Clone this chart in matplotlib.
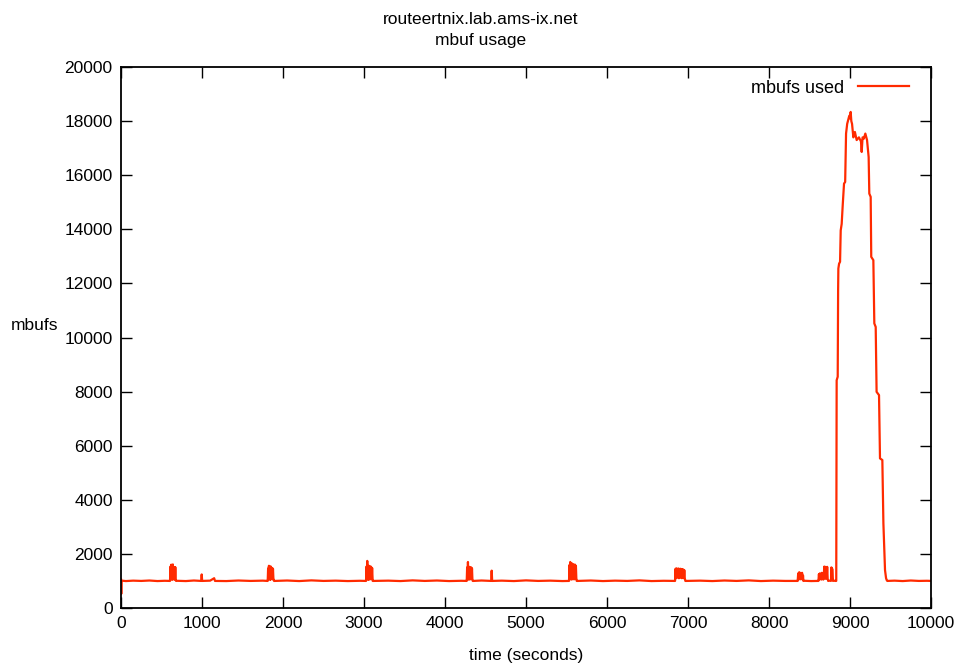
import matplotlib.pyplot as plt
from matplotlib.ticker import MultipleLocator

plt.rcParams['font.family'] = ['Liberation Sans', 'DejaVu Sans']
plt.rcParams['path.simplify'] = False

titulo = "routeertnix.lab.ams-ix.net\nmbuf usage"
etiqueta = "mbufs used"
color_linea = '#ff2a00'

# tramos (tiempo en segundos, mbufs)
inicio_t = [0, 3, 6, 10, 60, 150, 250, 350, 450, 540, 600]
inicio_v = [1050, 520, 1000, 1010, 995, 1010, 1000, 1015, 995, 1005, 1000]

rafaga1_t = [605, 610, 615, 620, 625, 630, 635, 640, 645, 650, 655, 660, 665, 670, 675, 679]
rafaga1_v = [1000, 1530, 1050, 1600, 1100, 1550, 1040, 1610, 1080, 1520, 1060, 1500, 1050, 1510, 1080, 1000]

tramo1_t = [690, 800, 900, 990, 996, 1002, 1100, 1150, 1160, 1300, 1450, 1600, 1750, 1805]
tramo1_v = [1005, 995, 1015, 1000, 1240, 1000, 1010, 1100, 1000, 995, 1015, 1000, 1010, 1000]

rafaga2_t = [1811, 1816, 1821, 1826, 1831, 1836, 1841, 1846, 1851, 1856, 1861, 1866, 1871, 1876, 1881, 1889]
rafaga2_v = [1000, 1460, 1050, 1560, 1080, 1470, 1040, 1540, 1060, 1450, 1100, 1480, 1060, 1450, 1100, 1000]

tramo2_t = [1900, 2050, 2200, 2350, 2500, 2650, 2800, 2950, 3020]
tramo2_v = [1000, 1015, 995, 1020, 1000, 1010, 995, 1005, 1000]

rafaga3_t = [3025, 3030, 3035, 3040, 3045, 3050, 3055, 3060, 3065, 3070, 3075, 3080, 3085, 3090, 3095, 3100, 3107]
rafaga3_v = [1000, 1530, 1050, 1740, 1080, 1520, 1040, 1560, 1060, 1500, 1100, 1540, 1060, 1500, 1080, 1480, 1000]

tramo3_t = [3120, 3300, 3450, 3600, 3750, 3900, 4050, 4200, 4265]
tramo3_v = [1000, 1010, 995, 1020, 1000, 1015, 995, 1005, 1000]

rafaga4_t = [4268, 4273, 4278, 4283, 4288, 4293, 4298, 4303, 4308, 4313, 4318, 4323, 4328, 4333, 4338, 4342]
rafaga4_v = [1000, 1500, 1040, 1700, 1080, 1480, 1050, 1520, 1070, 1450, 1060, 1500, 1080, 1460, 1060, 1000]

tramo4_t = [4350, 4450, 4570, 4576, 4582, 4700, 4850, 5000, 5150, 5300, 5450, 5528]
tramo4_v = [1000, 1015, 1000, 1380, 1000, 1010, 995, 1020, 1000, 1010, 995, 1000]

rafaga5_t = [5531, 5536, 5541, 5546, 5551, 5556, 5561, 5566, 5571, 5576, 5581, 5586, 5591,
             5596, 5601, 5606, 5611, 5616, 5621, 5626]
rafaga5_v = [1000, 1590, 1060, 1700, 1100, 1600, 1050, 1650, 1080, 1580, 1060, 1620, 1080,
             1580, 1060, 1600, 1080, 1550, 1100, 1000]

tramo5_t = [5640, 5800, 5950, 6100, 6250, 6400, 6550, 6700, 6835]
tramo5_v = [1000, 1015, 995, 1010, 1000, 1020, 995, 1005, 1000]

rafaga6_t = [6840, 6846, 6852, 6858, 6864, 6870, 6876, 6882, 6888, 6894, 6900, 6906, 6912,
             6918, 6924, 6930, 6936, 6942, 6948, 6954, 6960, 6967]
rafaga6_v = [1000, 1450, 1100, 1465, 1150, 1440, 1120, 1460, 1100, 1430, 1150, 1450, 1120,
             1440, 1100, 1430, 1150, 1420, 1100, 1400, 1100, 1000]

tramo6_t = [6980, 7150, 7300, 7450, 7600, 7750, 7900, 8050, 8200, 8350]
tramo6_v = [1000, 1010, 995, 1015, 1000, 1020, 995, 1010, 1000, 1000]

rafaga7_t = [8354, 8360, 8366, 8372, 8378, 8384, 8390, 8396, 8402, 8408, 8414, 8420, 8424]
rafaga7_v = [1000, 1280, 1050, 1320, 1100, 1300, 1060, 1260, 1080, 1300, 1050, 1200, 1000]

tramo7_t = [8440, 8520, 8600]
tramo7_v = [1005, 995, 1000]

grupo_t = [8610, 8616, 8622, 8628, 8634, 8640, 8646, 8652, 8658, 8664, 8670, 8676, 8682,
           8688, 8694, 8700, 8706, 8712, 8718, 8724, 8730, 8750, 8765, 8770, 8775, 8780,
           8790, 8800, 8820]
grupo_v = [1000, 1250, 1050, 1280, 1100, 1200, 1050, 1300, 1100, 1250, 1050, 1200, 1530,
           1100, 1520, 1080, 1500, 1100, 1520, 1080, 1000, 1010, 1000, 1500, 1050, 1450,
           1000, 1010, 1000]

pico_t = [8830, 8835, 8848, 8853, 8856, 8865, 8877, 8885, 8897, 8910, 8926, 8940, 8951,
          8965, 8991, 9000, 9008, 9016, 9025, 9041, 9060, 9082, 9110, 9135, 9144, 9155,
          9170, 9189, 9210, 9230, 9238, 9255, 9262, 9288, 9300, 9317, 9328, 9358, 9370,
          9399, 9412, 9432, 9445, 9453]
pico_v = [1000, 8420, 8550, 11750, 12550, 12730, 12800, 13960, 14200, 14900, 15690, 15750, 17540,
          17900, 18200, 18100, 18340, 18000, 17900, 17400, 17600, 17300, 17400, 17250, 16860, 17400,
          17350, 17540, 17300, 16670, 15320, 15200, 12980, 12860, 10520, 10390, 7990, 7870, 5530,
          5470, 3130, 1400, 1100, 1030]

final_t = [9460, 9550, 9650, 9750, 9850, 9950, 10000]
final_v = [1000, 1010, 995, 1015, 1000, 1005, 1000]

tiempos = (inicio_t + rafaga1_t + tramo1_t + rafaga2_t + tramo2_t + rafaga3_t + tramo3_t +
           rafaga4_t + tramo4_t + rafaga5_t + tramo5_t + rafaga6_t + tramo6_t + rafaga7_t +
           tramo7_t + grupo_t + pico_t + final_t)
mbufs = (inicio_v + rafaga1_v + tramo1_v + rafaga2_v + tramo2_v + rafaga3_v + tramo3_v +
         rafaga4_v + tramo4_v + rafaga5_v + tramo5_v + rafaga6_v + tramo6_v + rafaga7_v +
         tramo7_v + grupo_v + pico_v + final_v)

fig = plt.figure(figsize=(9.62, 6.63), dpi=100)
ax = fig.add_axes([0.1258, 0.0830, 0.842, 0.8159])

ax.plot(tiempos, mbufs, color=color_linea, linewidth=1.6, label=etiqueta)

ax.set_xlim(0, 10000)
ax.set_ylim(0, 20000)
ax.xaxis.set_major_locator(MultipleLocator(1000))
ax.yaxis.set_major_locator(MultipleLocator(2000))
ax.tick_params(direction='in', length=8, width=1, top=True, right=True, labelsize=12.5, pad=6)
for lado in ax.spines.values():
    lado.set_linewidth(1.3)

ax.set_xlabel("time (seconds)", fontsize=12.5, labelpad=12)
fig.text(35 / 962, 1 - 325 / 663, "mbufs", ha='center', va='center', fontsize=12.5)
fig.text(0.5, 0.955, titulo, ha='center', va='center', fontsize=12.5, linespacing=1.45)

ax.legend(loc='upper right', frameon=False, markerfirst=False, fontsize=13,
          handlelength=2.8, borderaxespad=0.3, bbox_to_anchor=(0.988, 1.0))

fig.savefig("out.png", dpi=100)
